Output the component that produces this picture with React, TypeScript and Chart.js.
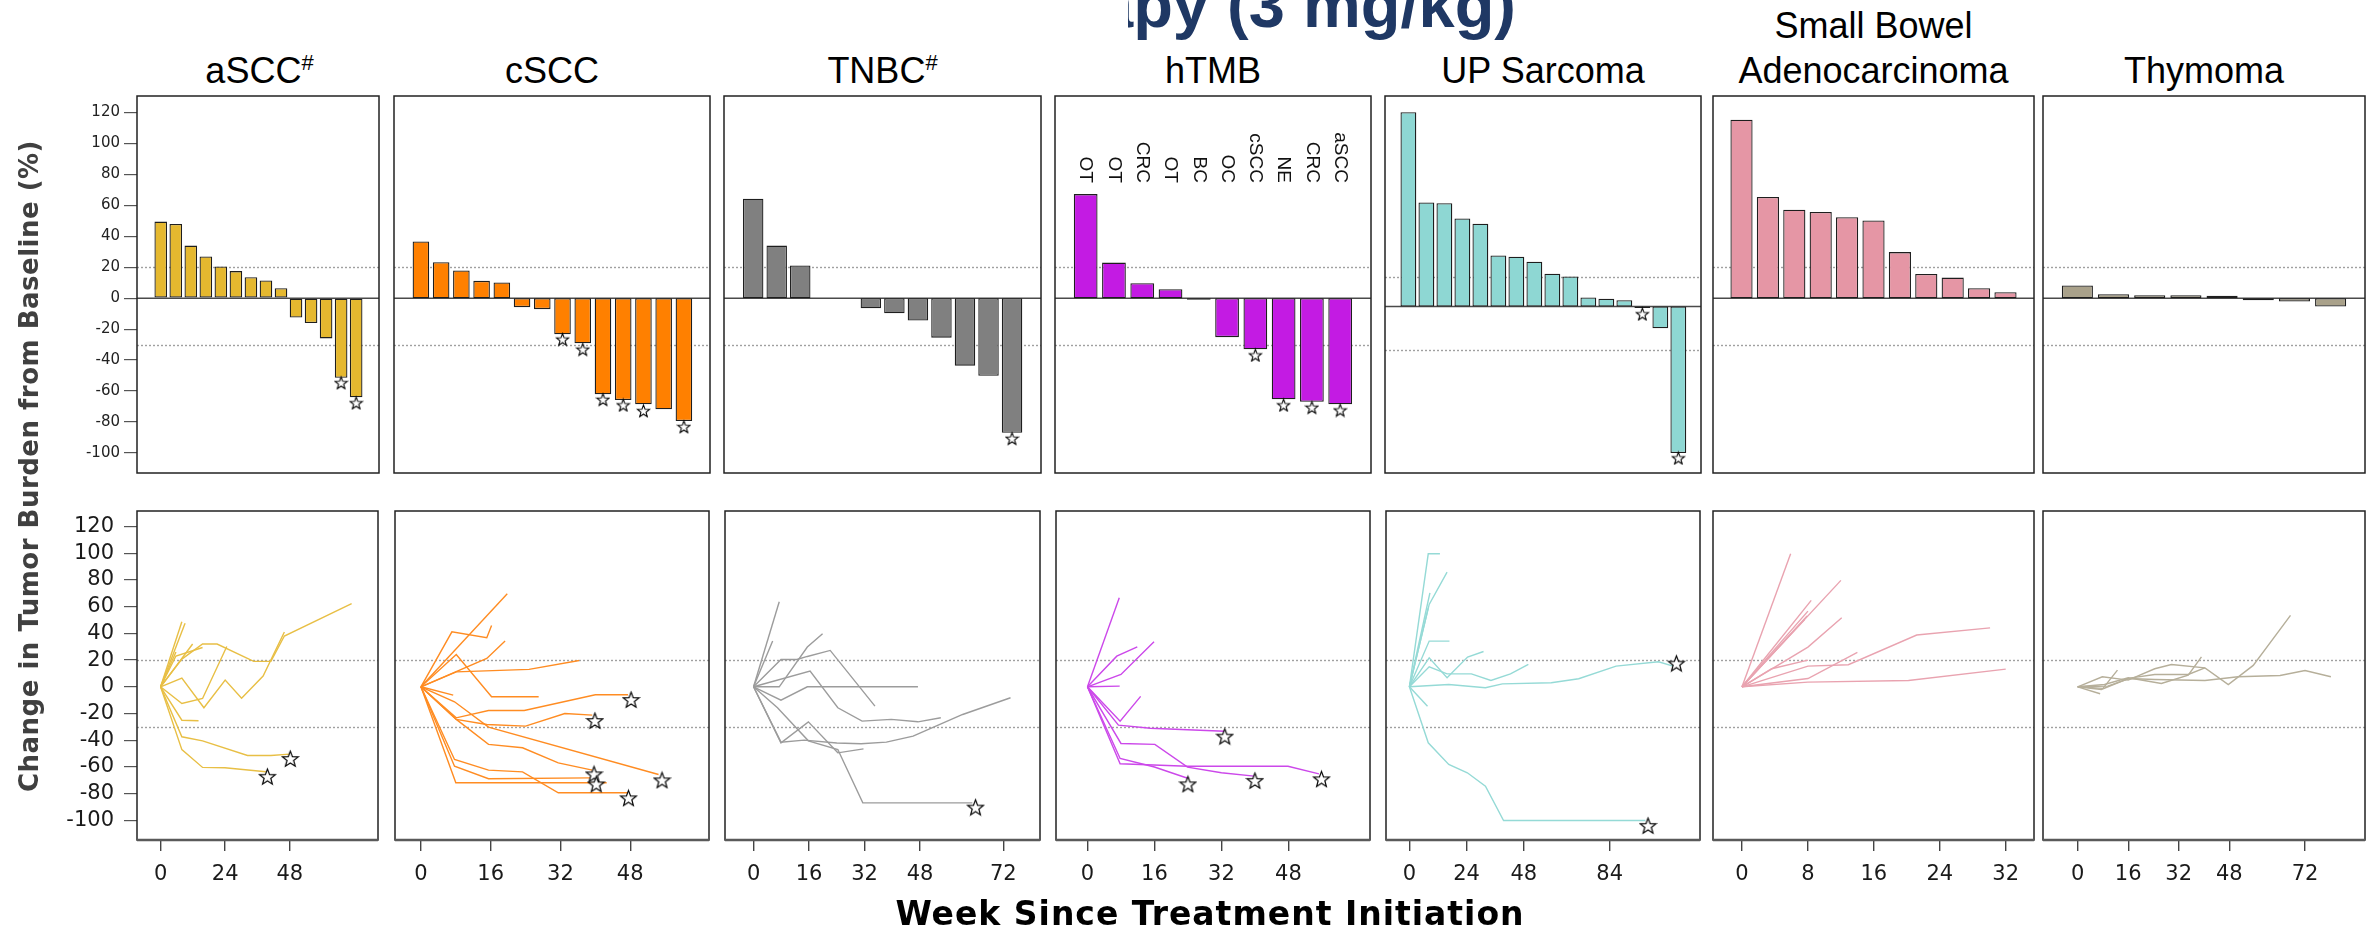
import React, { useEffect, useRef } from "react";
import { Chart, registerables } from "chart.js";

Chart.register(...registerables);
Chart.defaults.font.family = "'DejaVu Sans', sans-serif";

type Pt = [number, number];

// ---------------- Waterfall: best % change per patient ----------------
const aSCC_bar = [49.5, 48, 34, 27, 20.5, 17.5, 13.5, 11.5, 6.5, -12.5, -16, -26, -51.5, -64];
const aSCC_barStarIdx = [13, 14];
const aSCC_barStarVal = [-54.6, -67.6];

const cSCC_bar = [36.6, 23.3, 17.9, 11.2, 10.1, -5.8, -7.1, -23.3, -29.1, -62.1, -65.8, -68.6, -71.8, -79.4];
const cSCC_barStarIdx = [8, 9, 10, 11, 12, 14];
const cSCC_barStarVal = [-26.5, -33, -65.4, -69, -72.7, -83];

const TNBC_bar = [64.3, 34, 21.1, 0, 0, -6.5, -9.7, -14.5, -25.5, -43.6, -50.1, -87];
const TNBC_barStarIdx = [12];
const TNBC_barStarVal = [-90.6];

const hTMB_bar = [67.3, 23, 9.7, 5.8, -1, -25.2, -33, -65.4, -66.9, -68.6];
const hTMB_labels = ["OT", "OT", "CRC", "OT", "BC", "OC", "cSCC", "NE", "CRC", "aSCC"];
const hTMB_barStarIdx = [7, 8, 9, 10];
const hTMB_barStarVal = [-36.7, -69, -70.5, -72.3];

const UP_bar = [132.5, 70.9, 70.5, 60, 56.4, 34.8, 33.9, 30.5, 22.3, 20.5, 6.2, 5.3, 4.3, -1.1, -14.8, -100];
const UP_barStarIdx = [14, 16];
const UP_barStarVal = [-5, -103.3];

const SB_bar = [115.4, 65.4, 57.2, 55.7, 52.4, 50.2, 29.8, 15.7, 13.3, 6.5, 3.9];
const SB_barStarIdx: number[] = [];
const SB_barStarVal: number[] = [];

const Thy_bar = [8.2, 2.6, 1.9, 1.9, 1.5, -1.3, -2.2, -5.4];
const Thy_barStarIdx: number[] = [];
const Thy_barStarVal: number[] = [];

// ---------------- Spider: [week, % change] ----------------
const aSCC_lines: Pt[][] = [
  [[0, 0], [7.9, 48.6]],
  [[0, 0], [9.1, 47.6]],
  [[0, 0], [5.7, 26]],
  [[0, 0], [11.9, 32]],
  [[0, 0], [7.9, -12.5], [15.6, -8.7], [24.6, 30.2]],
  [[0, 0], [7.9, 6.5], [16.1, -15.7], [24, 5], [30.1, -8.5], [38.1, 8], [46, 41]],
  [[0, 0], [7.9, 20.7], [15.6, 32], [21, 32], [34.6, 19], [41, 19], [46, 38], [71, 62.3]],
  [[0, 0], [5.7, 23], [15.6, 29.4]],
  [[0, 0], [7.9, -25], [14.1, -25.4]],
  [[0, 0], [7.9, -37.4], [15.6, -40.4], [32.3, -51.4], [41, -51.4], [48, -50.4]],
  [[0, 0], [7.9, -47], [15.6, -60.3], [23.9, -60.6], [39.1, -63.6]],
];
const aSCC_spStars: Pt[] = [[48.2, -53.6], [39.7, -67]];

const cSCC_lines: Pt[][] = [
  [[0, 0], [19.8, 69.6]],
  [[0, 0], [7.1, 41.1], [15.1, 36.7], [16.2, 45.9]],
  [[0, 0], [15.1, 21.2], [19.3, 34.2]],
  [[0, 0], [8.1, 24.2], [16.2, -7.5], [27, -7.5]],
  [[0, 0], [8.1, 11.2], [24.8, 13], [36.3, 19.7]],
  [[0, 0], [7.4, -6.2]],
  [[0, 0], [8.1, -23.2], [15.5, -17.7], [23.7, -17.7], [40, -6], [47.5, -6]],
  [[0, 0], [8.1, -24.4], [15.1, -28.2], [24, -29.4], [33, -20], [39.3, -21.2]],
  [[0, 0], [7.7, -11.2], [15.5, -30.2], [54.5, -65.6]],
  [[0, 0], [8.1, -24.4], [15.5, -43.1], [23.3, -45.6], [31.5, -56.9], [39.3, -62.3]],
  [[0, 0], [7.7, -54.4], [15.5, -62.3], [23.3, -63.6], [31.5, -79.3], [47.5, -79.3]],
  [[0, 0], [7.7, -59.4], [15.5, -68.8], [38.9, -68.1]],
  [[0, 0], [8, -71.8], [42.6, -71.8]],
];
const cSCC_spStars: Pt[] = [[48.2, -9.5], [39.9, -25.2], [55.3, -69.6], [39.7, -65.1], [47.6, -83], [40.2, -72.6]];

const TNBC_lines: Pt[][] = [
  [[0, 0], [7.4, 63.6]],
  [[0, 0], [5.5, 34.2]],
  [[0, 0], [7.9, 20.4], [12.5, 20.4], [15.5, 22.7], [22.1, 27.2], [35, -14.5]],
  [[0, 0], [7.4, 0], [15.5, 29.7], [19.9, 39.7]],
  [[0, 0], [7.9, -10], [15.5, 0], [47.4, 0]],
  [[0, 0], [16.3, 11.7], [24.3, -15.7], [31.3, -25.7], [39.7, -24.4], [47.4, -26.2], [54, -23.2]],
  [[0, 0], [7.9, -41.9], [15.8, -26.2], [24.3, -49.4], [31.7, -46.4]],
  [[0, 0], [7.9, -41.4], [14.6, -39.9], [24, -42], [31, -42.6], [38.3, -41.4], [46, -36.9], [60.3, -20.7], [74.1, -8.2]],
  [[0, 0], [6.9, -15.7], [15.8, -40.4], [24.3, -46.9], [31.5, -86.8], [63.1, -86.8]],
];
const TNBC_spStars: Pt[] = [[64, -90]];

const hTMB_lines: Pt[][] = [
  [[0, 0], [7.6, 66.6]],
  [[0, 0], [7, 22.9], [11.9, 29.9]],
  [[0, 0], [8, 9.2], [15.9, 33.7]],
  [[0, 0], [7.7, 0.5]],
  [[0, 0], [7.8, -25.7], [12.7, -7.2]],
  [[0, 0], [7.4, -28.7], [15, -31], [32.8, -33.2]],
  [[0, 0], [8, -42.4], [16.1, -43.1], [23.9, -60.1], [32, -64.3], [39.8, -66.8]],
  [[0, 0], [7.8, -53.6], [16, -60], [24.1, -68.6]],
  [[0, 0], [7.8, -57.6], [23.9, -59.4], [47.9, -59.4], [55.3, -65.1]],
];
const hTMB_spStars: Pt[] = [[32.8, -36.9], [40, -70], [24, -72.6], [55.9, -68.8]];

const UP_lines: Pt[][] = [
  [[0, 0], [7.9, 99.5], [12.8, 99.5]],
  [[0, 0], [8.3, 61.6], [15.8, 85.8]],
  [[0, 0], [8.6, 70.3]],
  [[0, 0], [7.9, 59.1]],
  [[0, 0], [8.3, 34.2], [16.8, 34.2]],
  [[0, 0], [8.3, 21.7], [15.8, 6.7], [24.4, 22.2], [31.1, 26.4]],
  [[0, 0], [8.3, 15], [15.8, 9.7], [26, 9.7], [34.2, 4.7], [42.4, 9.7], [49.9, 16.7]],
  [[0, 0], [16.5, 1.7], [31.9, -0.7], [39, 2.2], [59.5, 3], [71, 6], [86.7, 15.5], [104.5, 18.7], [110.6, 15.5]],
  [[0, 0], [7.6, -14.5]],
  [[0, 0], [7.9, -41.9], [16.5, -58.1], [24.3, -64.3], [31.9, -74.3], [39.5, -100], [99, -100]],
];
const UP_spStars: Pt[] = [[112, 17.7], [100.1, -103.7]];

const SB_lines: Pt[][] = [
  [[0, 0], [5.9, 99.5]],
  [[0, 0], [12, 79.6]],
  [[0, 0], [8.4, 64.6]],
  [[0, 0], [8, 56.6]],
  [[0, 0], [7.6, 50.4]],
  [[0, 0], [7.9, 53]],
  [[0, 0], [8, 29.7], [12.1, 51.6]],
  [[0, 0], [3.6, 13.5], [8, 20]],
  [[0, 0], [8, 15.5], [12.9, 16.5], [21.2, 38.7], [30.1, 44.1]],
  [[0, 0], [8, 6.2], [14, 25.7]],
  [[0, 0], [8, 3.5], [20.2, 4.7], [32, 13.2]],
];
const SB_spStars: Pt[] = [];

const Thy_lines: Pt[][] = [
  [[0, 0], [7.8, 7.5], [16, 5], [24.4, 13.5], [29.7, 16.7], [40.3, 14.2], [47.7, 1.7], [55.6, 16], [67.4, 53.4]],
  [[0, 0], [7.5, -2], [16, 6.2], [24.4, 5.5], [40.3, 4.7], [50.8, 7.5], [64.1, 8.5], [72, 12.2], [80.2, 7.5]],
  [[0, 0], [7.1, -5.2]],
  [[0, 0], [8, -1.2], [12.6, 12.5]],
  [[0, 0], [8.5, 1.7], [16, 6.7], [26.5, 2.5], [35, 8.7], [39.2, 22.4]],
  [[0, 0], [9.5, 0.5], [17, 6.7], [24.4, 9.2], [35, 9.2], [40.3, 14.2]],
];
const Thy_spStars: Pt[] = [];

// ---------------- Tick labels ----------------
const Y_TICKS = [-100, -80, -60, -40, -20, 0, 20, 40, 60, 80, 100, 120];
const REF_LINES = [20, -30];
const aSCC_xTicks = [0, 24, 48];
const cSCC_xTicks = [0, 16, 32, 48];
const TNBC_xTicks = [0, 16, 32, 48, 72];
const hTMB_xTicks = [0, 16, 32, 48];
const UP_xTicks = [0, 24, 48, 84];
const SB_xTicks = [0, 8, 16, 24, 32];
const Thy_xTicks = [0, 16, 32, 48, 72];

// ---------------- Panel configuration ----------------
const PANELS = [
  { title: ["aSCC"], sup: "#", bars: aSCC_bar, starIdx: aSCC_barStarIdx, starVal: aSCC_barStarVal, lines: aSCC_lines, spStars: aSCC_spStars, xTicks: aSCC_xTicks, barColor: "#E5B82F", lineColor: "#E8BF45", barX: [-0.58, 15.52], barPct: 0.84, topY: [-113, 130.7], spX: [-8.77, 80.8] },
  { title: ["cSCC"], sup: "", bars: cSCC_bar, starIdx: cSCC_barStarIdx, starVal: cSCC_barStarVal, lines: cSCC_lines, spStars: cSCC_spStars, xTicks: cSCC_xTicks, barColor: "#FF8000", lineColor: "#FF8C22", barX: [-0.33, 15.29], barPct: 0.82, topY: [-113, 130.7], spX: [-5.95, 66.07] },
  { title: ["TNBC"], sup: "#", bars: TNBC_bar, starIdx: TNBC_barStarIdx, starVal: TNBC_barStarVal, lines: TNBC_lines, spStars: TNBC_spStars, xTicks: TNBC_xTicks, barColor: "#808080", lineColor: "#9C9C9C", barX: [-0.24, 13.23], barPct: 0.87, topY: [-113, 130.7], spX: [-8.24, 82.6] },
  { title: ["hTMB"], sup: "", labels: hTMB_labels, bars: hTMB_bar, starIdx: hTMB_barStarIdx, starVal: hTMB_barStarVal, lines: hTMB_lines, spStars: hTMB_spStars, xTicks: hTMB_xTicks, barColor: "#C31BE3", lineColor: "#CC48EA", barX: [-0.085, 11.09], barPct: 0.84, topY: [-113, 130.7], spX: [-7.52, 67.5] },
  { title: ["UP Sarcoma"], sup: "", bars: UP_bar, starIdx: UP_barStarIdx, starVal: UP_barStarVal, lines: UP_lines, spStars: UP_spStars, xTicks: UP_xTicks, barColor: "#8ED7D3", lineColor: "#95DAD6", barX: [-0.3, 17.26], barPct: 0.88, topY: [-113.6, 143.6], spX: [-9.82, 121.9] },
  { title: ["Small Bowel", "Adenocarcinoma"], sup: "", bars: SB_bar, starIdx: SB_barStarIdx, starVal: SB_barStarVal, lines: SB_lines, spStars: SB_spStars, xTicks: SB_xTicks, barColor: "#E596A5", lineColor: "#E9A3B0", barX: [-0.08, 12.08], barPct: 0.84, topY: [-113, 130.7], spX: [-3.52, 35.43] },
  { title: ["Thymoma"], sup: "", bars: Thy_bar, starIdx: Thy_barStarIdx, starVal: Thy_barStarVal, lines: Thy_lines, spStars: Thy_spStars, xTicks: Thy_xTicks, barColor: "#A9A18A", lineColor: "#B6AF9A", barX: [0.05, 8.95], barPct: 0.86, topY: [-113, 130.7], spX: [-10.99, 91.0] },
];

const COL_X = [[137, 382], [391, 713], [721, 1044], [1052, 1374], [1382, 1704], [1713, 2034], [2043, 2365]];
const TOP_BOX = { t: 96, b: 473 };
const BOT_BOX = { t: 511, b: 840 };
const BOT_Y = [-114.6, 131.5];
const X_AXIS_H = 62;
const PAD = 16;
const BOT_PAD = 28;

function makeStar(size: number, lw: number): HTMLCanvasElement {
  const c = document.createElement("canvas");
  c.width = size;
  c.height = size;
  const g = c.getContext("2d") as CanvasRenderingContext2D;
  const cx = size / 2, cy = size / 2 + size * 0.05;
  const R = size / 2 - lw, r = R * 0.42;
  g.beginPath();
  for (let k = 0; k < 10; k++) {
    const a = -Math.PI / 2 + (k * Math.PI) / 5;
    const rad = k % 2 === 0 ? R : r;
    const px = cx + rad * Math.cos(a), py = cy + rad * Math.sin(a);
    if (k === 0) g.moveTo(px, py);
    else g.lineTo(px, py);
  }
  g.closePath();
  g.fillStyle = "#fff";
  g.fill();
  g.lineWidth = lw;
  g.strokeStyle = "#000";
  g.stroke();
  return c;
}

function decoPlugin(opt: { zero: boolean; bottom: boolean; labels?: string[]; labelAnchor?: number }) {
  return {
    id: "deco",
    beforeDatasetsDraw(chart: any) {
      const { ctx, chartArea: a } = chart;
      const y = chart.scales.y;
      ctx.save();
      ctx.strokeStyle = "#a0a0a0";
      ctx.lineWidth = 1.4;
      ctx.setLineDash([2, 2]);
      REF_LINES.forEach((v) => {
        const py = Math.round(y.getPixelForValue(v)) + 0.5;
        ctx.beginPath();
        ctx.moveTo(a.left, py);
        ctx.lineTo(a.right, py);
        ctx.stroke();
      });
      ctx.setLineDash([]);
      if (opt.zero) {
        const py = y.getPixelForValue(0);
        ctx.strokeStyle = "#4a4a4a";
        ctx.lineWidth = 1.6;
        ctx.beginPath();
        ctx.moveTo(a.left, py);
        ctx.lineTo(a.right, py);
        ctx.stroke();
      }
      ctx.restore();
    },
    afterDraw(chart: any) {
      const { ctx, chartArea: a } = chart;
      ctx.save();
      if (opt.labels) {
        const xs = chart.scales.x, ys = chart.scales.y;
        const py = ys.getPixelForValue(opt.labelAnchor);
        ctx.font = "19px 'Liberation Sans', Arial, sans-serif";
        ctx.fillStyle = "#111";
        ctx.textAlign = "right";
        ctx.textBaseline = "middle";
        opt.labels.forEach((t, k) => {
          const px = xs.getPixelForValue(k + 1);
          ctx.save();
          ctx.translate(px, py);
          ctx.rotate(Math.PI / 2);
          ctx.fillText(t, 0, 0);
          ctx.restore();
        });
      }
      ctx.strokeStyle = "#222";
      ctx.lineWidth = 1.5;
      ctx.strokeRect(a.left, a.top, a.right - a.left, a.bottom - a.top);
      if (opt.bottom) {
        ctx.strokeStyle = "#5a5a5a";
        ctx.lineWidth = 2.5;
        ctx.beginPath();
        ctx.moveTo(a.left, a.bottom);
        ctx.lineTo(a.right, a.bottom);
        ctx.stroke();
      }
      ctx.restore();
    },
  };
}

function topConfig(p: any, i: number) {
  const first = i === 0;
  return {
    type: "bar",
    data: {
      datasets: [
        {
          type: "bar",
          data: p.bars.map((v: number, k: number) => ({ x: k + 1, y: v })),
          backgroundColor: p.barColor,
          borderColor: "#1e1e1e",
          borderWidth: 1.3,
          borderSkipped: false,
          barPercentage: p.barPct,
          categoryPercentage: 1,
          order: 2,
        },
        {
          type: "scatter",
          data: p.starIdx.map((k: number, j: number) => ({ x: k, y: p.starVal[j] })),
          pointStyle: makeStar(15, 1.1),
          pointRadius: 6,
          showLine: false,
          order: 1,
        },
      ],
    },
    options: {
      responsive: false,
      animation: false,
      devicePixelRatio: 1,
      events: [],
      layout: { padding: { left: first ? 0 : 4, right: 4, top: PAD, bottom: PAD } },
      plugins: { legend: { display: false }, tooltip: { enabled: false } },
      scales: {
        x: {
          type: "linear",
          offset: false,
          min: p.barX[0],
          max: p.barX[1],
          display: false,
          afterBuildTicks: (ax: any) => {
            ax.ticks = p.bars.map((_: number, k: number) => ({ value: k + 1 }));
          },
        },
        y: {
          type: "linear",
          min: p.topY[0],
          max: p.topY[1],
          display: first,
          afterBuildTicks: (ax: any) => {
            ax.ticks = Y_TICKS.map((v) => ({ value: v }));
          },
          afterFit: first ? (ax: any) => { ax.width = COL_X[0][0]; } : undefined,
          border: { display: false },
          grid: { drawOnChartArea: false, drawTicks: true, tickLength: 13, color: "#555", lineWidth: 1.2 },
          ticks: { font: { family: "'DejaVu Sans', sans-serif", size: 15 }, color: "#222", padding: 4 },
        },
      },
    },
    plugins: [decoPlugin({ zero: true, bottom: false, labels: p.labels, labelAnchor: 74.5 })],
  };
}

function bottomConfig(p: any, i: number) {
  const first = i === 0;
  const lineSets = p.lines.map((pts: Pt[]) => ({
    data: pts.map(([x, y]) => ({ x, y })),
    showLine: true,
    borderColor: p.lineColor,
    borderWidth: 1.4,
    pointRadius: 0,
    pointHoverRadius: 0,
    tension: 0,
    order: 2,
  }));
  return {
    type: "scatter",
    data: {
      datasets: [
        ...lineSets,
        {
          data: p.spStars.map(([x, y]: Pt) => ({ x, y })),
          pointStyle: makeStar(19, 1.2),
          pointRadius: 7,
          showLine: false,
          order: 1,
        },
      ],
    },
    options: {
      responsive: false,
      animation: false,
      devicePixelRatio: 1,
      events: [],
      layout: { padding: { left: first ? 0 : 4, right: 4, top: BOT_PAD, bottom: 0 } },
      plugins: { legend: { display: false }, tooltip: { enabled: false } },
      scales: {
        x: {
          type: "linear",
          min: p.spX[0],
          max: p.spX[1],
          afterBuildTicks: (ax: any) => {
            ax.ticks = p.xTicks.map((v: number) => ({ value: v }));
          },
          afterFit: (ax: any) => { ax.height = X_AXIS_H; },
          border: { display: false },
          grid: { drawOnChartArea: false, drawTicks: true, tickLength: 11, color: "#444", lineWidth: 1.4 },
          ticks: { font: { family: "'DejaVu Sans', sans-serif", size: 21 }, color: "#1a1a1a", padding: 11, maxRotation: 0, autoSkip: false },
        },
        y: {
          type: "linear",
          min: BOT_Y[0],
          max: BOT_Y[1],
          display: first,
          afterBuildTicks: (ax: any) => {
            ax.ticks = Y_TICKS.map((v) => ({ value: v }));
          },
          afterFit: first ? (ax: any) => { ax.width = COL_X[0][0]; } : undefined,
          border: { display: false },
          grid: { drawOnChartArea: false, drawTicks: true, tickLength: 13, color: "#555", lineWidth: 1.2 },
          ticks: { font: { family: "'DejaVu Sans', sans-serif", size: 21 }, color: "#1a1a1a", padding: 10 },
        },
      },
    },
    plugins: [decoPlugin({ zero: false, bottom: true })],
  };
}

function ChartBox(props: { left: number; top: number; width: number; height: number; make: () => any }) {
  const ref = useRef<HTMLCanvasElement | null>(null);
  useEffect(() => {
    const chart = new Chart(ref.current as HTMLCanvasElement, props.make());
    return () => chart.destroy();
  }, []);
  return (
    <canvas
      ref={ref}
      width={props.width}
      height={props.height}
      style={{ position: "absolute", left: props.left, top: props.top, width: props.width, height: props.height }}
    />
  );
}

export default function App() {
  const font = "'Liberation Sans', Arial, sans-serif";
  return (
    <div style={{ position: "absolute", left: 0, top: 0, width: 2377, height: 930, overflow: "hidden", background: "#fff" }}>
      <div style={{ position: "absolute", left: 1128, top: 0, width: 400, height: 60, overflow: "hidden" }}>
        <div
          style={{
            position: "absolute", right: 12, top: -28, fontFamily: font, fontWeight: "bold",
            fontSize: 65, lineHeight: 1, color: "#1F3864", whiteSpace: "nowrap",
          }}
        >
          Monotherapy (3 mg/kg)
        </div>
      </div>
      {PANELS.map((p, i) => {
        const [l, r] = COL_X[i];
        const n = p.title.length;
        return (
          <div
            key={"t" + i}
            style={{
              position: "absolute", left: l, width: r - l, top: 83 - 35 - 45 * (n - 1), textAlign: "center",
              fontFamily: font, fontSize: 36, lineHeight: "45px", color: "#000", whiteSpace: "nowrap",
            }}
          >
            {p.title.map((t, k) => (
              <div key={k}>
                {t}
                {k === n - 1 && p.sup ? (
                  <span style={{ fontSize: 22, lineHeight: 1, position: "relative", top: -13 }}>{p.sup}</span>
                ) : null}
              </div>
            ))}
          </div>
        );
      })}
      {PANELS.map((p, i) => {
        const [l, r] = COL_X[i];
        const left = i === 0 ? 0 : l - 4;
        const width = r + 4 - left;
        return (
          <ChartBox
            key={"top" + i}
            left={left}
            top={TOP_BOX.t - PAD}
            width={width}
            height={TOP_BOX.b - TOP_BOX.t + 2 * PAD}
            make={() => topConfig(p, i)}
          />
        );
      })}
      {PANELS.map((p, i) => {
        const [l, r] = COL_X[i];
        const left = i === 0 ? 0 : l - 4;
        const width = r + 4 - left;
        return (
          <ChartBox
            key={"bot" + i}
            left={left}
            top={BOT_BOX.t - BOT_PAD}
            width={width}
            height={BOT_BOX.b - BOT_BOX.t + BOT_PAD + X_AXIS_H}
            make={() => bottomConfig(p, i)}
          />
        );
      })}
      <div
        style={{
          position: "absolute", left: 29 - 400, top: 466 - 20, width: 800, height: 40, lineHeight: "40px",
          textAlign: "center", transform: "rotate(-90deg)", fontFamily: "'DejaVu Sans', sans-serif",
          fontWeight: "bold", fontSize: 26, letterSpacing: 0.5, color: "#404040", whiteSpace: "nowrap",
        }}
      >
        Change in Tumor Burden from Baseline (%)
      </div>
      <div
        style={{
          position: "absolute", left: 1210 - 500, width: 1000, top: 897, textAlign: "center",
          fontFamily: "'DejaVu Sans', sans-serif", fontWeight: "bold", fontSize: 33, lineHeight: 1,
          letterSpacing: 1, color: "#000", whiteSpace: "nowrap",
        }}
      >
        Week Since Treatment Initiation
      </div>
    </div>
  );
}
